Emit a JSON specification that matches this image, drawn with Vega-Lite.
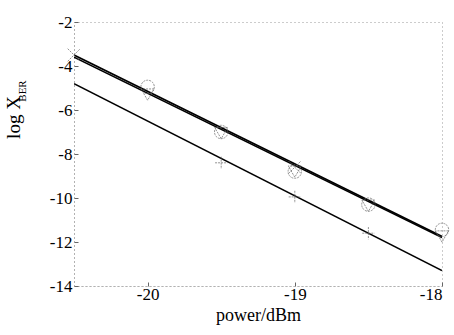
{
  "$schema": "https://vega.github.io/schema/vega-lite/v6.json",
  "width": 368,
  "height": 264,
  "autosize": "none",
  "padding": {"left": 74, "top": 22, "right": 12, "bottom": 49},
  "background": "white",
  "title": {
    "text": "BER",
    "orient": "left",
    "anchor": "middle",
    "font": "Liberation Serif",
    "fontSize": 11,
    "fontWeight": "normal",
    "color": "black",
    "dx": 63,
    "dy": 28
  },
  "config": {
    "view": {"stroke": "#999", "strokeDash": [1, 3], "strokeWidth": 1},
    "font": "Liberation Serif"
  },
  "datasets": {
    "lines": [
      {"series": "upperA", "power": -20.5, "logber": -3.6},
      {"series": "upperA", "power": -18, "logber": -11.8},
      {"series": "upperB", "power": -20.5, "logber": -3.5},
      {"series": "upperB", "power": -18, "logber": -11.75},
      {"series": "lower", "power": -20.5, "logber": -4.8},
      {"series": "lower", "power": -18, "logber": -13.3}
    ],
    "points": [
      {"marker": "circle", "power": -20, "logber": -4.95},
      {"marker": "circle", "power": -19.5, "logber": -7.0},
      {"marker": "circle", "power": -19, "logber": -8.8},
      {"marker": "circle", "power": -18.5, "logber": -10.3},
      {"marker": "circle", "power": -18, "logber": -11.45},
      {"marker": "triangle", "power": -20, "logber": -5.3},
      {"marker": "triangle", "power": -19.5, "logber": -7.05},
      {"marker": "triangle", "power": -19, "logber": -8.8},
      {"marker": "triangle", "power": -18.5, "logber": -10.35},
      {"marker": "triangle", "power": -18, "logber": -11.75},
      {"marker": "x", "power": -20.5, "logber": -3.5},
      {"marker": "x", "power": -19, "logber": -8.6},
      {"marker": "plus", "power": -19.5, "logber": -8.4},
      {"marker": "plus", "power": -19, "logber": -9.95},
      {"marker": "plus", "power": -18.5, "logber": -11.6}
    ]
  },
  "layer": [
    {
      "data": {"name": "lines"},
      "mark": {"type": "line", "color": "black", "strokeWidth": 1.6, "clip": true},
      "encoding": {
        "x": {
          "field": "power", "type": "quantitative",
          "scale": {"domain": [-20.5, -18], "nice": false, "zero": false},
          "axis": {
            "values": [-20, -19, -18],
            "labelExpr": "'' + datum.value",
            "title": "power/dBm",
            "titleFont": "Liberation Serif", "titleFontSize": 18, "titleFontWeight": "normal",
            "titleColor": "black", "titlePadding": 4,
            "labelFont": "Liberation Serif", "labelFontSize": 17, "labelColor": "black",
            "labelPadding": 4,
            "tickSize": -4, "tickColor": "#666", "domainColor": "#999", "domainDash": [1, 3],
            "grid": false
          }
        },
        "y": {
          "field": "logber", "type": "quantitative",
          "scale": {"domain": [-14, -2], "nice": false, "zero": false},
          "axis": {
            "values": [-14, -12, -10, -8, -6, -4, -2],
            "labelExpr": "'' + datum.value",
            "title": "log X",
            "titleFont": "Liberation Serif", "titleFontSize": 19, "titleFontWeight": "normal",
            "titleColor": "black",
            "titleX": -55, "titleY": 95, "titleAlign": "center", "titleBaseline": "alphabetic",
            "labelFont": "Liberation Serif", "labelFontSize": 17, "labelColor": "black",
            "labelPadding": 6,
            "tickSize": -4, "tickColor": "#666", "domainColor": "#999", "domainDash": [1, 3],
            "grid": false
          }
        },
        "detail": {"field": "series"}
      }
    },
    {
      "data": {"name": "points"},
      "mark": {"type": "point", "filled": false, "strokeWidth": 1, "strokeDash": [2, 1], "clip": false},
      "encoding": {
        "x": {"field": "power", "type": "quantitative"},
        "y": {"field": "logber", "type": "quantitative"},
        "shape": {
          "field": "marker", "type": "nominal",
          "scale": {"domain": ["circle", "triangle", "x", "plus"], "range": ["circle", "triangle-down", "M-1,-1L1,1M-1,1L1,-1", "M-1,0L1,0M0,-1L0,1"]},
          "legend": null
        },
        "size": {
          "field": "marker", "type": "nominal",
          "scale": {"domain": ["circle", "triangle", "x", "plus"], "range": [180, 150, 60, 100]},
          "legend": null
        },
        "color": {"value": "#666"}
      }
    }
  ]
}
